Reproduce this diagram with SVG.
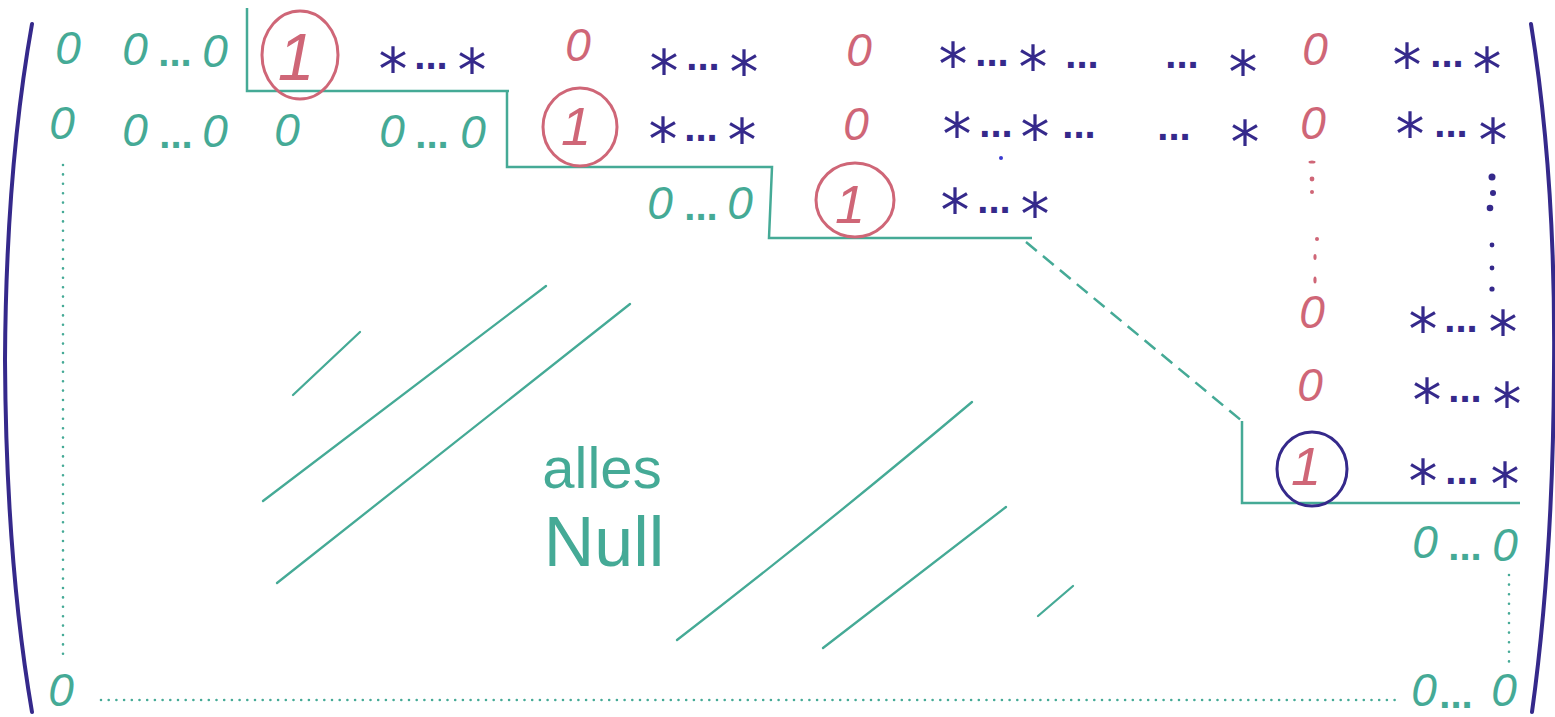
<svg xmlns="http://www.w3.org/2000/svg" width="1555" height="717" viewBox="0 0 1555 717">
<style>
text{font-family:"Liberation Sans",Arial,sans-serif;text-anchor:middle}
.t{fill:#45aa96}
.p{fill:#cf6677}
.b{fill:#35298b}
.z{font-size:46px;font-style:italic}
.o{font-size:54px;font-style:italic}
.o1{font-size:66px;font-style:italic}
.s{font-family:"DejaVu Sans",sans-serif;font-size:58px}
.d{font-size:40px;font-weight:bold}
.ring{fill:none;stroke-width:3}
.tl{fill:none;stroke:#45aa96;stroke-width:2.5}
.dash{fill:none;stroke:#45aa96;stroke-width:2.5;stroke-dasharray:14 8}
.dot{fill:none;stroke:#45aa96;stroke-width:2.6;stroke-linecap:round}
.hatch{fill:none;stroke:#45aa96;stroke-width:2.3;stroke-linecap:round}
.br{fill:none;stroke:#35298b;stroke-width:4;stroke-linecap:round}
</style>

<g id="brackets">
<path class="br" d="M32,24 Q6,170 5,360 Q6,560 32,712"/>
<path class="br" d="M1531,24 Q1556,180 1554,370 Q1553,560 1532,712"/>
</g>

<g id="connectors">
<polyline class="tl" points="247,8 247,91 509,91 507,91 507,167 772,167 769,238 1032,238"/>
<line class="dash" x1="1026" y1="242" x2="1242" y2="421"/>
<polyline class="tl" points="1242,421 1242,503 1520,503"/>
<line class="dot" x1="63" y1="165" x2="63" y2="655" stroke-dasharray="0 9.4"/>
<line class="dot" x1="101" y1="700" x2="1400" y2="700" stroke-dasharray="0 7.7"/>
<line class="dot" x1="1509" y1="575" x2="1509" y2="662" stroke-dasharray="0 9.6"/>
</g>

<g id="row1">
<text class="t z" x="68" y="64">0</text>
<text class="t"><tspan class="z" x="135" y="65">0</tspan><tspan class="d" x="175" y="66">...</tspan><tspan class="z" x="215" y="67">0</tspan></text>
<ellipse class="ring" cx="300" cy="55" rx="38" ry="44" stroke="#cf6677"/>
<text class="p o1" x="296" y="80">1</text>
<text class="b"><tspan class="s" x="393" y="90">*</tspan><tspan class="d" x="431" y="69">...</tspan><tspan class="s" x="472" y="91">*</tspan></text>
<text class="p z" x="578" y="61">0</text>
<text class="b"><tspan class="s" x="664" y="92">*</tspan><tspan class="d" x="703" y="70">...</tspan><tspan class="s" x="744" y="93">*</tspan></text>
<text class="p z" x="859" y="66">0</text>
<text class="b"><tspan class="s" x="953" y="85">*</tspan><tspan class="d" x="992" y="66">...</tspan><tspan class="s" x="1033" y="88">*</tspan><tspan class="d" x="1082" y="68">...</tspan><tspan class="d" x="1182" y="68">...</tspan><tspan class="s" x="1243" y="93">*</tspan></text>
<text class="p z" x="1315" y="65">0</text>
<text class="b"><tspan class="s" x="1407" y="86">*</tspan><tspan class="d" x="1447" y="67">...</tspan><tspan class="s" x="1487" y="90">*</tspan></text>
</g>

<g id="row2">
<text class="t z" x="62" y="139">0</text>
<text class="t"><tspan class="z" x="135" y="146">0</tspan><tspan class="d" x="176" y="148">...</tspan><tspan class="z" x="215" y="147">0</tspan></text>
<text class="t z" x="287" y="146">0</text>
<text class="t"><tspan class="z" x="392" y="147">0</tspan><tspan class="d" x="432" y="148">...</tspan><tspan class="z" x="473" y="148">0</tspan></text>
<ellipse class="ring" cx="580" cy="127" rx="37" ry="39" stroke="#cf6677"/>
<text class="p o" x="576" y="145">1</text>
<text class="b"><tspan class="s" x="663" y="160">*</tspan><tspan class="d" x="701" y="141">...</tspan><tspan class="s" x="742" y="161">*</tspan></text>
<text class="p z" x="856" y="140">0</text>
<text class="b"><tspan class="s" x="957" y="155">*</tspan><tspan class="d" x="996" y="137">...</tspan><tspan class="s" x="1035" y="158">*</tspan><tspan class="d" x="1079" y="138">...</tspan><tspan class="d" x="1174" y="140">...</tspan><tspan class="s" x="1245" y="163">*</tspan></text>
<circle cx="1001" cy="158" r="2" fill="#3a3ad0"/>
<text class="p z" x="1313" y="139">0</text>
<text class="b"><tspan class="s" x="1410" y="155">*</tspan><tspan class="d" x="1451" y="137">...</tspan><tspan class="s" x="1493" y="161">*</tspan></text>
</g>

<g id="vdots">
<g fill="#cf6677">
<ellipse cx="1312" cy="162" rx="3.5" ry="1.5"/>
<circle cx="1312" cy="179" r="2.4"/>
<circle cx="1312" cy="192" r="2"/>
<circle cx="1317" cy="239" r="2"/>
<ellipse cx="1315" cy="257" rx="1.6" ry="3"/>
<ellipse cx="1315" cy="280" rx="1.6" ry="3.5"/>
</g>
<g fill="#35298b">
<circle cx="1492" cy="177" r="3.5"/>
<circle cx="1493" cy="193" r="3"/>
<circle cx="1490" cy="208" r="3.3"/>
<circle cx="1492" cy="245" r="2.4"/>
<circle cx="1492" cy="268" r="2.4"/>
<circle cx="1492" cy="289" r="2.6"/>
</g>
</g>

<g id="row3">
<text class="t"><tspan class="z" x="660" y="219">0</tspan><tspan class="d" x="701" y="220">...</tspan><tspan class="z" x="740" y="219">0</tspan></text>
<ellipse class="ring" cx="855" cy="200" rx="39" ry="37" stroke="#cf6677"/>
<text class="p o" x="850" y="223">1</text>
<text class="b"><tspan class="s" x="955" y="231">*</tspan><tspan class="d" x="994" y="213">...</tspan><tspan class="s" x="1035" y="235">*</tspan></text>
</g>

<g id="row4">
<text class="p z" x="1312" y="328">0</text>
<text class="b"><tspan class="s" x="1423" y="350">*</tspan><tspan class="d" x="1461" y="332">...</tspan><tspan class="s" x="1503" y="353">*</tspan></text>
</g>

<g id="row5">
<text class="p z" x="1310" y="401">0</text>
<text class="b"><tspan class="s" x="1427" y="421">*</tspan><tspan class="d" x="1465" y="402">...</tspan><tspan class="s" x="1507" y="425">*</tspan></text>
</g>

<g id="row6">
<ellipse class="ring" cx="1312" cy="469" rx="35" ry="37" stroke="#35298b"/>
<text class="p o" x="1306" y="485">1</text>
<text class="b"><tspan class="s" x="1423" y="502">*</tspan><tspan class="d" x="1462" y="484">...</tspan><tspan class="s" x="1505" y="505">*</tspan></text>
</g>

<g id="row7">
<text class="t"><tspan class="z" x="1425" y="558">0</tspan><tspan class="d" x="1465" y="560">...</tspan><tspan class="z" x="1505" y="561">0</tspan></text>
</g>

<g id="row8">
<text class="t z" x="61" y="706">0</text>
<text class="t"><tspan class="z" x="1424" y="706">0</tspan><tspan class="d" x="1456" y="708">...</tspan><tspan class="z" x="1504" y="706">0</tspan></text>
</g>

<g id="hatch">
<path class="hatch" d="M293,395 L360,332"/>
<path class="hatch" d="M263,501 L546,286"/>
<path class="hatch" d="M277,583 L630,304"/>
<path class="hatch" d="M677,640 Q820,530 972,402"/>
<path class="hatch" d="M823,648 L1006,507"/>
<path class="hatch" d="M1038,616 L1073,586"/>
</g>

<g id="label">
<text class="t"><tspan x="602" y="488" font-size="58">alles</tspan><tspan x="604" y="566" font-size="70">Null</tspan></text>
</g>
</svg>
